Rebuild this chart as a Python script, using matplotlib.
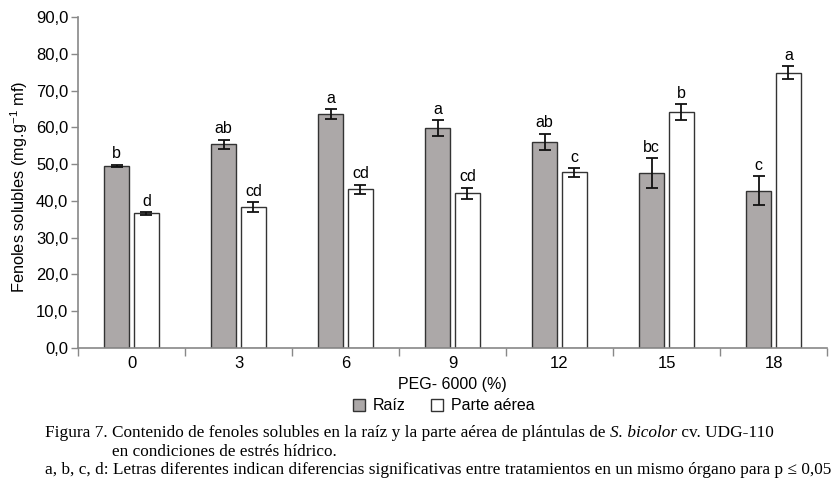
import matplotlib
matplotlib.use("Agg")
import matplotlib.pyplot as plt
import numpy as np
from matplotlib.patches import Patch

categories = ["0", "3", "6", "9", "12", "15", "18"]
raiz = [49.6, 55.4, 63.7, 59.8, 56.1, 47.5, 42.8]
raiz_err = [0.3, 1.3, 1.3, 2.1, 2.2, 4.1, 4.0]
parte = [36.6, 38.3, 43.2, 42.1, 47.8, 64.2, 74.9]
parte_err = [0.4, 1.3, 1.2, 1.5, 1.2, 2.2, 1.8]
raiz_letters = ["b", "ab", "a", "a", "ab", "bc", "c"]
parte_letters = ["d", "cd", "cd", "cd", "c", "b", "a"]
yticks = [0, 10, 20, 30, 40, 50, 60, 70, 80, 90]

plt.rcParams['font.family'] = ['Liberation Sans', 'DejaVu Sans']

fig = plt.figure(figsize=(8.35, 4.92), dpi=100)
ax = fig.add_axes([78/835, 1-347.7/492, 749/835, 330.4/492])

x = np.arange(len(categories))
w = 0.225
off = 0.14
gray = "#aca8a8"
edge = "#333333"
axcol = "#888888"

ax.bar(x - off, raiz, w, color=gray, edgecolor=edge, linewidth=1.0, zorder=2)
ax.bar(x + off, parte, w, color="white", edgecolor=edge, linewidth=1.0, zorder=2)
ax.errorbar(x - off, raiz, yerr=raiz_err, fmt="none", ecolor="#111111",
            elinewidth=1.3, capsize=4, capthick=1.3, zorder=3)
ax.errorbar(x + off, parte, yerr=parte_err, fmt="none", ecolor="#111111",
            elinewidth=1.3, capsize=4, capthick=1.3, zorder=3)

for xi, v, e, t in zip(x - off, raiz, raiz_err, raiz_letters):
    ax.text(xi, v + e + 0.9, t, ha="center", va="bottom", fontsize=11.5)
for xi, v, e, t in zip(x + off, parte, parte_err, parte_letters):
    ax.text(xi, v + e + 0.9, t, ha="center", va="bottom", fontsize=11.5)

ax.set_xlim(-0.5, len(categories) - 0.5)
ax.set_ylim(0, 90)
ax.set_yticks(yticks)
ax.set_yticklabels([f"{v:.1f}".replace(".", ",") for v in yticks], fontsize=12)
ax.set_xticks(np.arange(len(categories) + 1) - 0.5)
ax.set_xticklabels([])
ax.set_xticks(x, minor=True)
ax.set_xticklabels(categories, minor=True, fontsize=12)
ax.tick_params(axis="x", which="minor", length=0, pad=6)
ax.tick_params(axis="x", which="major", length=6, color=axcol, width=1)
ax.tick_params(axis="y", length=5, color=axcol, width=1, pad=2)

for s in ["top", "right"]:
    ax.spines[s].set_visible(False)
for s in ["left", "bottom"]:
    ax.spines[s].set_color(axcol)
    ax.spines[s].set_linewidth(1.2)

ax.set_ylabel("Fenoles solubles (mg.g$^{\\mathregular{-1}}$ mf)", fontsize=11.8)
ax.yaxis.set_label_coords(-0.064, 0.487)
ax.set_xlabel("PEG- 6000 (%)", fontsize=11.5, labelpad=4)

handles = [Patch(facecolor=gray, edgecolor=edge, label="Raíz"),
           Patch(facecolor="white", edgecolor=edge, label="Parte aérea")]
fig.legend(handles=handles, loc="center", bbox_to_anchor=(444/835, 1-406/492),
           ncol=2, frameon=False, fontsize=11.5, handlelength=0.75, handleheight=0.75,
           handletextpad=0.5, columnspacing=1.6)

serif = ["Liberation Serif", "DejaVu Serif"]
cs = 12.4
renderer = fig.canvas.get_renderer()
def seq(xpix, ypix, parts):
    xp = xpix
    for txt, style in parts:
        t = fig.text(xp/835, 1-ypix/492, txt, va="center", ha="left",
                     family=serif, fontsize=cs, style=style)
        bb = t.get_window_extent(renderer=renderer)
        xp = bb.x1
seq(45, 433, [("Figura 7. Contenido de fenoles solubles en la raíz y la parte aérea de plántulas de ", "normal"),
              ("S. bicolor", "italic"), (" cv. UDG-110", "normal")])
seq(112, 452, [("en condiciones de estrés hídrico.", "normal")])
seq(45, 470, [("a, b, c, d: Letras diferentes indican diferencias significativas entre tratamientos en un mismo órgano para p ≤ 0,05", "normal")])

fig.savefig("out.png", dpi=100)
